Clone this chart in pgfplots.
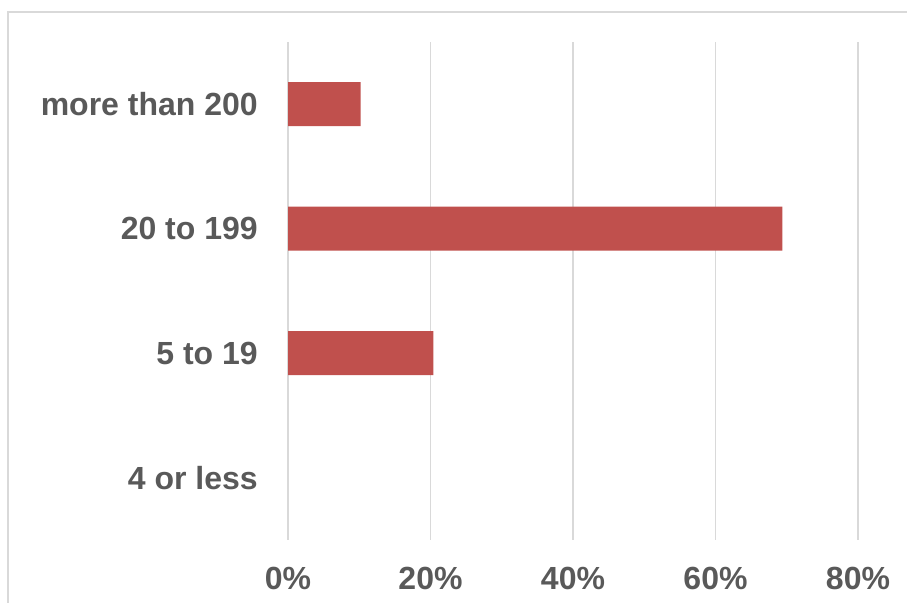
\documentclass[border=0pt]{standalone}
\usepackage{pgfplots}
\pgfplotsset{compat=1.18}
\usepackage{fontspec}
\setmainfont{Liberation Sans}

\definecolor{barred}{HTML}{C0504D}
\definecolor{labgray}{HTML}{595959}
\definecolor{gridgray}{HTML}{D9D9D9}

% 1px = 0.75pt, picture is 907 x 603 px
\begin{document}
\begin{tikzpicture}
\useasboundingbox (0pt,0pt) rectangle (680.25pt,452.25pt);
\draw[gridgray, line width=0.9pt] (6pt,0pt) -- (6pt,443.25pt) -- (680.25pt,443.25pt);
\begin{axis}[
    at={(216pt,47.25pt)}, anchor=south west,
    scale only axis,
    width=427.5pt, height=373.5pt,
    xbar,
    bar width=33pt,
    xmin=0, xmax=80,
    ymin=-0.5, ymax=3.5,
    xtick={0,20,40,60,80},
    xticklabels={0\%,20\%,40\%,60\%,80\%},
    ytick={0,1,2,3},
    yticklabels={4 or less,5 to 19,20 to 199,more than 200},
    xmajorgrids,
    grid style={gridgray, line width=1.2pt},
    axis line style={draw=none},
    major tick length=0pt,
    tick label style={font=\bfseries\fontsize{24}{28}\selectfont, text=labgray, inner sep=0pt},
    xticklabel style={anchor=north, yshift=-20.25pt},
    yticklabel style={anchor=east, xshift=-22.5pt},
]
% "4 or less" is 0%: no bar drawn
\addplot[fill=barred, draw=none] coordinates {
    (20.4,1) (69.4,2) (10.2,3)
};
\end{axis}
\end{tikzpicture}
\end{document}
